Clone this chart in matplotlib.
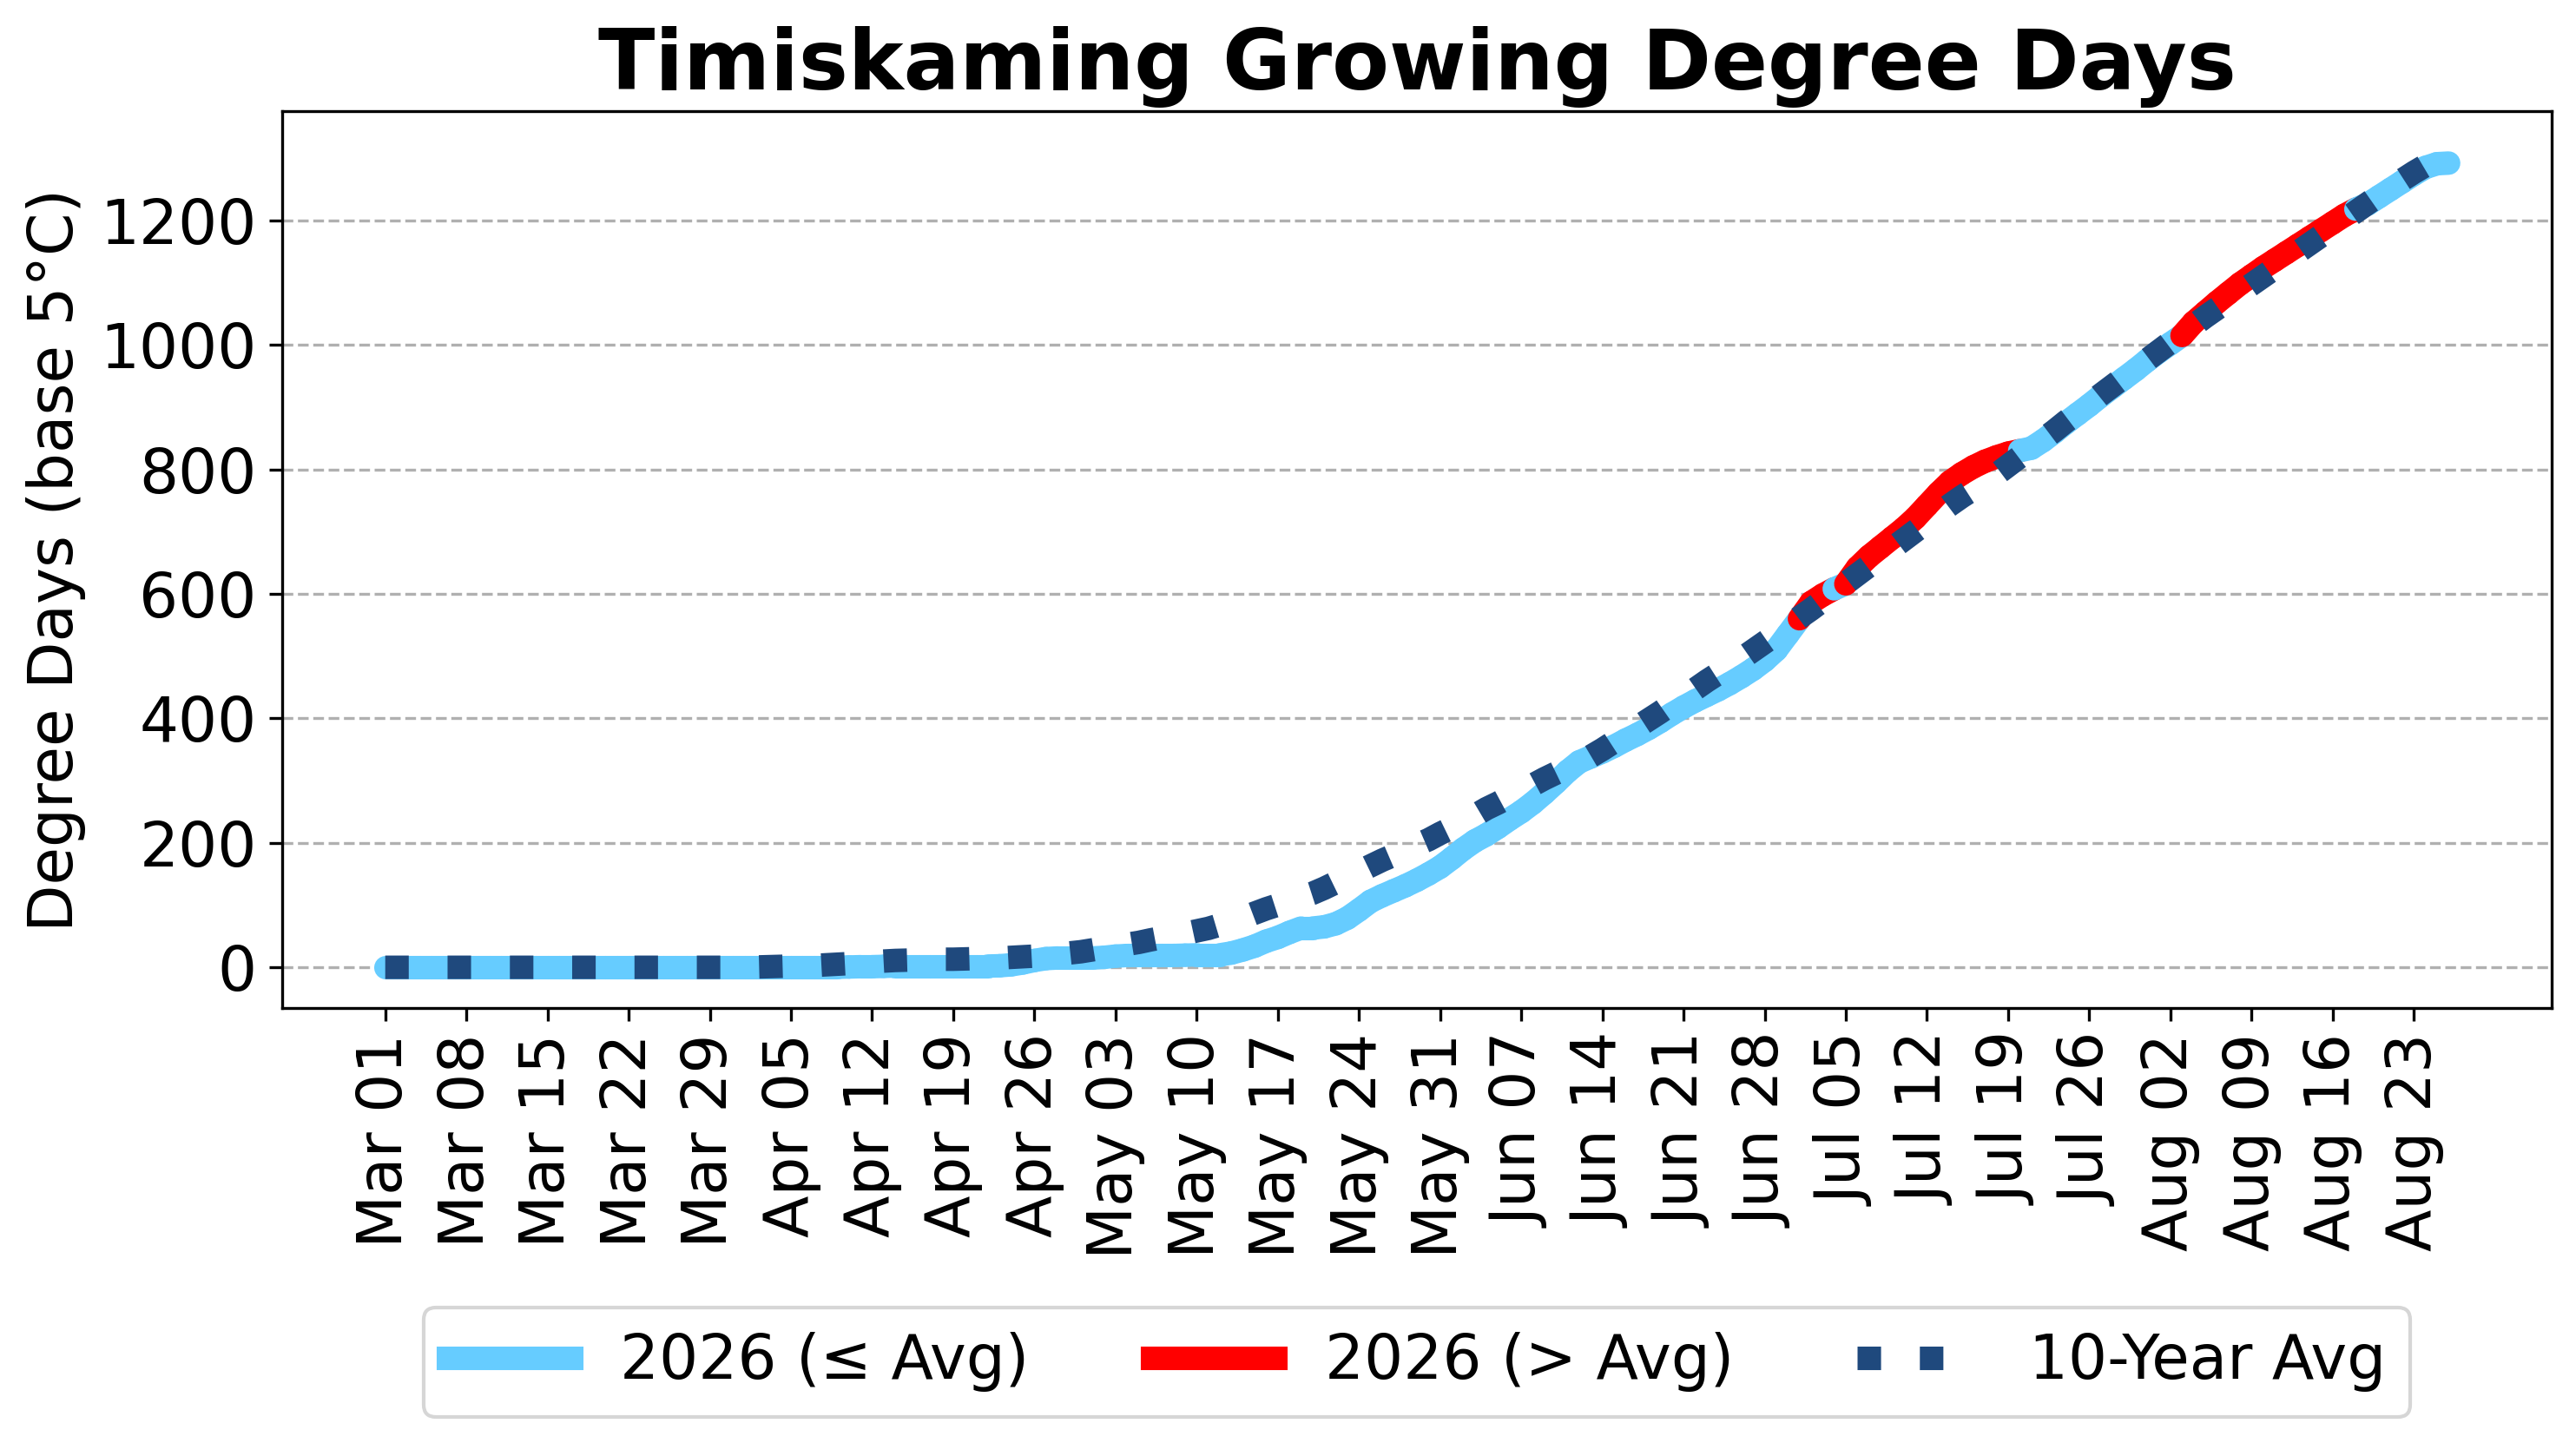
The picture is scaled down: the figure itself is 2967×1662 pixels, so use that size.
import numpy as np
import pandas as pd
import matplotlib
matplotlib.use("Agg")
import matplotlib.pyplot as plt
from matplotlib.lines import Line2D

# ----------------------------------------------------------
# DATA (cumulative growing degree days, base 5 C)
# ----------------------------------------------------------
start_date = "2026-03-01"

# 2026 season, one value per day from Mar 01
gdd_2026 = [
    0, 0, 0, 0, 0, 0, 0, 0, 0, 0,
    0, 0, 0, 0, 0, 0, 0, 0, 0, 0,
    0, 0, 0, 0, 0, 0, 0, 0, 0, 0,
    0, 0, 0, 0, 0, 0, 0, 0, 0, 0,
    0.5, 1, 1, 1.5, 2, 2, 2, 2, 2, 2,
    2, 2, 2, 2.5, 4, 7, 11, 14, 15, 15,
    15, 15, 16, 18, 19, 19, 19, 19, 19, 19.5,
    20, 20, 20, 23, 28, 34, 42, 48, 56, 63,
    63, 65, 70, 79, 92, 106, 115, 123, 131, 140,
    150, 161, 175, 190, 203, 213, 225, 238, 250, 264,
    280, 297, 315, 330, 338, 346, 355, 365, 374, 384,
    395, 407, 418, 428, 437, 446, 456, 467, 479, 493,
    510, 535, 560, 586, 598, 608, 616, 642, 660, 675,
    690, 705, 722, 742, 762, 780, 793, 804, 813, 820,
    826, 830, 834, 846, 860, 875, 889, 903, 918, 932,
    946, 960, 975, 989, 1002, 1015, 1036, 1052, 1068, 1083,
    1098, 1111, 1124, 1136, 1148, 1160, 1172, 1184, 1196, 1208,
    1218, 1226, 1238, 1250, 1262, 1274, 1285, 1291, 1292,
]

# 10-year average, same days
gdd_avg = [
    0, 0, 0, 0, 0, 0, 0, 0, 0, 0,
    0, 0, 0, 0, 0, 0, 0, 0, 0, 0,
    0, 0, 0, 0, 0, 0, 0, 0, 0, 0,
    0, 0, 0.5, 1, 1.5, 2, 2.5, 3, 4, 5,
    6, 7.5, 9, 10, 11, 11.5, 12, 12.5, 13, 13,
    13.5, 14, 14.5, 15, 16, 17, 18, 19.5, 21, 23,
    25, 28, 31, 34, 37, 40, 44, 47.5, 51, 54.5,
    58.5, 62.5, 68, 74, 80, 87, 94, 100, 107, 113,
    119, 127, 136, 145, 154, 163, 172, 180, 189, 197,
    205, 215, 224, 234, 244, 255, 264, 274, 283, 293,
    303, 312, 321, 330, 339, 350, 362, 374, 386, 398,
    410, 423, 435, 447, 460, 472, 484, 496, 509, 522,
    535, 548, 562, 575, 589, 603, 617, 631, 645, 659,
    673, 687, 701, 715, 729, 743, 756, 768, 780, 792,
    806, 820, 834, 848, 862, 877, 891, 905, 920, 934,
    948, 962, 976, 990, 1004, 1017, 1031, 1045, 1058, 1071,
    1084, 1097, 1110, 1123, 1136, 1149, 1162, 1175, 1188, 1201,
    1214, 1227, 1240, 1252, 1265, 1277, 1288, 1299, 1310,
]

dates = pd.date_range(start_date, periods=len(gdd_2026), freq="D")
gdd_2026 = np.array(gdd_2026, dtype=float)
gdd_avg = np.array(gdd_avg, dtype=float)

below_color = "#66CCFF"
above_color = "#FF0000"
avg_color = "#1F497D"
lw = 6.5

# ----------------------------------------------------------
# PLOT
# ----------------------------------------------------------
fig = plt.figure(figsize=(2967 / 300, 1662 / 300), dpi=300)
ax = fig.add_axes([0.1095, 0.3014, 0.9906 - 0.1095, 0.9230 - 0.3014])

# 2026 drawn day by day, red where it runs ahead of the average
for i in range(len(dates) - 1):
    c = above_color if gdd_2026[i + 1] > gdd_avg[i + 1] else below_color
    ax.plot(dates[i:i + 2], gdd_2026[i:i + 2], color=c, lw=lw,
            solid_capstyle="round")

ax.plot(dates, gdd_avg, color=avg_color, lw=lw, linestyle=":")

ax.set_title("Timiskaming Growing Degree Days", fontsize=23,
             fontweight="bold")
ax.set_ylabel("Degree Days (base 5°C)", fontsize=17)

tick_dates = dates[::7]
ax.set_xticks(tick_dates)
ax.set_xticklabels([d.strftime("%b %d") for d in tick_dates], rotation=90)
ax.set_yticks(np.arange(0, 1201, 200))
ax.tick_params(labelsize=17)
ax.grid(axis="y", linestyle="--")

handles = [
    Line2D([0], [0], color=below_color, lw=lw),
    Line2D([0], [0], color=above_color, lw=lw),
    Line2D([0], [0], color=avg_color, lw=lw, linestyle=":"),
]
ax.legend(handles, ["2026 (≤ Avg)", "2026 (> Avg)", "10-Year Avg"],
          loc="upper center", bbox_to_anchor=(0.5, -0.334), ncol=3,
          fontsize=17, borderaxespad=0)

fig.savefig("out.png", dpi=300)
